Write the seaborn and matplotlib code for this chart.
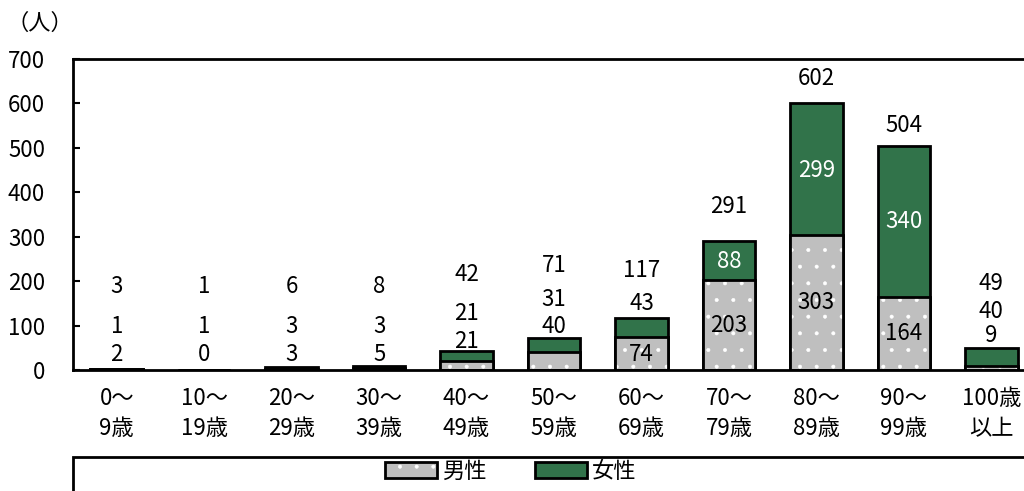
import matplotlib
matplotlib.use("Agg")
import matplotlib.pyplot as plt
import matplotlib.patches as mpatches
import seaborn as sns
import pandas as pd

# ---- data ----
categories = ["0～\n9歳", "10～\n19歳", "20～\n29歳", "30～\n39歳", "40～\n49歳",
              "50～\n59歳", "60～\n69歳", "70～\n79歳", "80～\n89歳", "90～\n99歳", "100歳\n以上"]
male = [2, 0, 3, 5, 21, 40, 74, 203, 303, 164, 9]
female = [1, 1, 3, 3, 21, 31, 43, 88, 299, 340, 40]
total = [3, 1, 6, 8, 42, 71, 117, 291, 602, 504, 49]
yticks = [0, 100, 200, 300, 400, 500, 600, 700]

# ---- label layout (data-units y positions of labels) ----
male_lab_y = [34, 34, 34, 34, 65, 99, 36, 101, 153, 83, 77]
female_lab_y = [99, 99, 99, 99, 128, 158, 149, 245, 450, 335, 131]
total_lab_y = [187, 187, 187, 187, 214, 236, 225, 367, 657, 551, 194]
female_inside = [False] * 7 + [True, True, True, False]

sns.set_theme(style="white")
plt.rcParams['font.family'] = ['Noto Sans CJK JP', 'DejaVu Sans']
plt.rcParams['hatch.linewidth'] = 0.4
plt.rcParams['text.color'] = 'black'
plt.rcParams['xtick.color'] = 'black'
plt.rcParams['ytick.color'] = 'black'

GRAY = "#bfbfbf"
GREEN = "#31734a"
FS = 16

df = pd.DataFrame({"cat": categories, "male": male, "female": female, "total": total})

fig = plt.figure(figsize=(10.24, 4.91), dpi=100)
ax = fig.add_axes([73 / 1024, 121 / 491, (1035 - 73) / 1024, (370 - 59) / 491])

# female stacked (total height) then male overlaid
sns.barplot(data=df, x="cat", y="total", color=GREEN, saturation=1, width=0.6,
            edgecolor="black", linewidth=2, ax=ax)
n0 = len(ax.patches)
sns.barplot(data=df, x="cat", y="male", color=GRAY, saturation=1, width=0.6,
            edgecolor="white", linewidth=0, hatch=".", ax=ax)
n1 = len(ax.patches)
sns.barplot(data=df, x="cat", y="male", fill=False, width=0.6,
            edgecolor="black", linewidth=2, ax=ax)
for p in ax.patches[n0:n1]:
    p.set_edgecolor("white")
    p.set_linewidth(0)
    p.set_hatch(".")

ax.set_ylim(0, 700)
ax.set_xlim(-0.5, len(categories) - 0.5)
ax.set_yticks(yticks)
ax.set_yticklabels([str(v) for v in yticks], fontsize=FS, color="black")
ax.set_xticklabels(categories, fontsize=FS, linespacing=1.4, color="black")
ax.set_xlabel("")
ax.set_ylabel("")
ax.tick_params(axis="y", direction="in", length=5, width=1.5, left=True, pad=20)
ax.tick_params(axis="x", length=0, pad=12)
for s in ["left", "top", "bottom"]:
    ax.spines[s].set_color("black")
    ax.spines[s].set_linewidth(2)
ax.spines["right"].set_visible(False)

for i in range(len(categories)):
    ax.text(i, male_lab_y[i], str(male[i]), ha="center", va="center", fontsize=FS, color="black")
    ax.text(i, female_lab_y[i], str(female[i]), ha="center", va="center", fontsize=FS,
            color="white" if female_inside[i] else "black")
    ax.text(i, total_lab_y[i], str(total[i]), ha="center", va="center", fontsize=FS, color="black")

fig.text(6 / 1024, 1 - 23 / 491, "（人）", fontsize=FS, ha="left", va="center", color="black")

# legend box
box = mpatches.Rectangle((73 / 1024, -0.05), 1.0, 0.05 + (491 - 457) / 491,
                         transform=fig.transFigure, fill=False, edgecolor="black",
                         linewidth=2, clip_on=False)
fig.add_artist(box)
h_male = (mpatches.Patch(facecolor=GRAY, edgecolor="white", hatch=".", linewidth=0),
          mpatches.Patch(facecolor="none", edgecolor="black", linewidth=2))
h_female = mpatches.Patch(facecolor=GREEN, edgecolor="black", linewidth=2)
leg = fig.legend([h_male, h_female], ["男性", "女性"], loc="center",
                 bbox_to_anchor=(511 / 1024, (491 - 471) / 491), ncol=2, frameon=False,
                 fontsize=FS, handlelength=2.3, handleheight=0.75, handletextpad=0.25,
                 columnspacing=2.2)
for t in leg.get_texts():
    t.set_color("black")

fig.savefig("out.png", dpi=100)
